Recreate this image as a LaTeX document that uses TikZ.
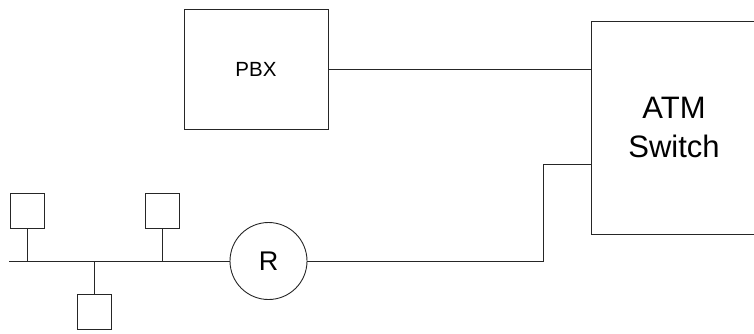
\documentclass[tikz,border=0pt]{standalone}
\usepackage{fontspec}
\setmainfont{Liberation Sans}
\usetikzlibrary{positioning}

\begin{document}
\begin{tikzpicture}[x=1pt, y=-1pt, line width=0.9pt, draw=black!85,
    box/.style={draw=black!85, rectangle, inner sep=0pt},
    host/.style={box, minimum width=34pt, minimum height=35pt}]
    \useasboundingbox (0,0) rectangle (754,333);

    % 機器
    \node[box, minimum width=144pt, minimum height=120pt, font=\fontsize{20.5}{24}\selectfont] (pbx) at (256, 69) {PBX};
    \node[box, minimum width=166pt, minimum height=213pt, align=center, font=\fontsize{31}{39}\selectfont] (atm) at (674, 127.5) {ATM\\Switch};
    \node[draw=black!85, circle, minimum size=77pt, inner sep=0pt, font=\fontsize{27}{30}\selectfont] (r) at (268.5, 261) {R};

    % 端末
    \node[host] (h1) at (27, 210.5) {};
    \node[host] (h2) at (162.5, 210.5) {};
    \node[host] (h3) at (94, 312) {};

    % バス
    \coordinate (busend) at (9, 261);
    \draw (busend) -- (r.west);
    \foreach \h in {h1, h2, h3} \draw (\h) -- (\h |- r.west);

    % 回線
    \coordinate (bend) at (543, 164.5);
    \draw (pbx.east) -- (pbx.east -| atm.west);
    \draw (r.east) -| (bend) -- (bend -| atm.west);
\end{tikzpicture}
\end{document}
